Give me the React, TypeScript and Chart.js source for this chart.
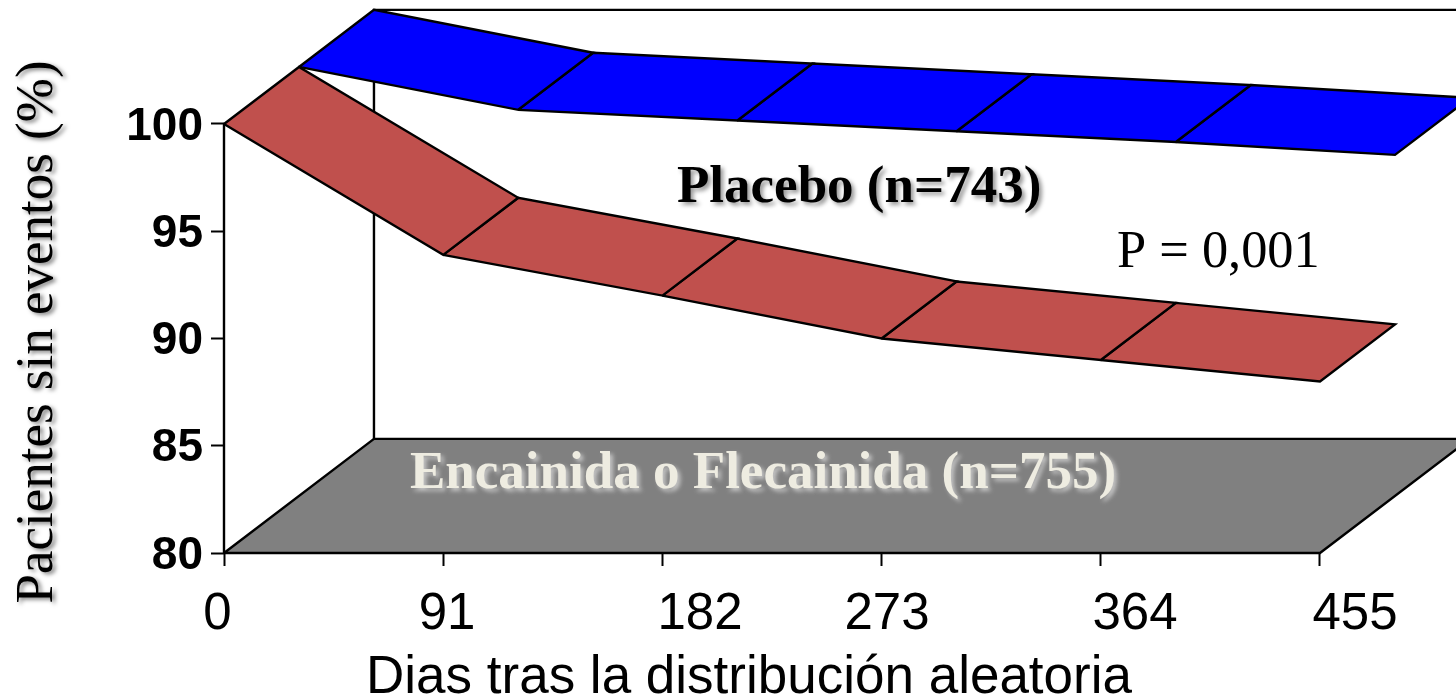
import React, { useEffect, useRef } from "react";
import { Chart, registerables } from "chart.js";

Chart.register(...registerables);

const days = [0, 91, 182, 273, 364, 455];
const encainidaValues = [100, 93.9, 92.0, 90.0, 89.0, 88.0];
const placeboValues = [100, 98.0, 97.5, 97.0, 96.5, 95.9];
const yTickValues = [80, 85, 90, 95, 100];
const yTitle = "Pacientes sin eventos (%)";
const xTitle = "Dias tras la distribución aleatoria";
const placeboLabel = "Placebo (n=743)";
const encainidaLabel = "Encainida o Flecainida (n=755)";
const pLabel = "P = 0,001";

// Per-label horizontal nudge of the x tick labels, in pixels.
const xLabelNudge = [-6.5, 3.8, 37.6, 5.4, 34.2, 35];
const Y_LABEL_NUDGE = 3;

// One depth step of the fake 3D box, in axis units.
const DEPTH_X = 31.13;
const DEPTH_Y = 2.66;
const X_MAX = 511.46;
const Y_MIN = 80;
const Y_MAX = 105.78;

const BLACK = "#000000";
const LINE = 2.4;

function quadDatasets(label: string, values: number[], depth: number, color: string, order: number) {
  const out: any[] = [];
  const dx = depth * DEPTH_X;
  const dy = depth * DEPTH_Y;
  for (let i = 0; i < days.length - 1; i++) {
    out.push({
      label: `${label} ${days[i]}`,
      data: [
        { x: days[i] + dx, y: values[i] + dy },
        { x: days[i + 1] + dx, y: values[i + 1] + dy },
        { x: days[i + 1] + dx + DEPTH_X, y: values[i + 1] + dy + DEPTH_Y },
        { x: days[i] + dx + DEPTH_X, y: values[i] + dy + DEPTH_Y },
        { x: days[i] + dx, y: values[i] + dy },
      ],
      backgroundColor: color,
      borderColor: BLACK,
      borderWidth: LINE,
      fill: "shape",
      tension: 0,
      pointRadius: 0,
      clip: false,
      order,
    });
  }
  return out;
}

const lastDay = days[days.length - 1];

const boxDatasets: any[] = [
  {
    label: "Floor",
    data: [
      { x: 0, y: Y_MIN },
      { x: lastDay, y: Y_MIN },
      { x: lastDay + 2 * DEPTH_X, y: Y_MIN + 2 * DEPTH_Y },
      { x: 2 * DEPTH_X, y: Y_MIN + 2 * DEPTH_Y },
      { x: 0, y: Y_MIN },
    ],
    backgroundColor: "#808080",
    borderColor: BLACK,
    borderWidth: LINE,
    fill: "shape",
    tension: 0,
    pointRadius: 0,
    clip: false,
    order: 100,
  },
  {
    label: "Back wall",
    data: [
      { x: 2 * DEPTH_X, y: Y_MIN + 2 * DEPTH_Y },
      { x: 2 * DEPTH_X, y: 100 + 2 * DEPTH_Y },
      { x: X_MAX, y: 100 + 2 * DEPTH_Y },
    ],
    borderColor: BLACK,
    borderWidth: LINE,
    fill: false,
    tension: 0,
    pointRadius: 0,
    clip: false,
    order: 90,
  },
  {
    label: "Value axis",
    data: [
      { x: 0, y: Y_MIN },
      { x: 0, y: 100 },
    ],
    borderColor: BLACK,
    borderWidth: LINE,
    fill: false,
    tension: 0,
    pointRadius: 0,
    clip: false,
    order: 80,
  },
];

const textPlugin = {
  id: "chartText",
  beforeDraw(chart: any) {
    const { ctx, width, height } = chart;
    ctx.save();
    ctx.fillStyle = "#ffffff";
    ctx.fillRect(0, 0, width, height);
    ctx.restore();

    // Titles are the scales' own; only shift them, and give the y title its shadow.
    const wrap = (scale: any, dx: number, dy: number, shadow: boolean) => {
      if (scale.__wrapped) return;
      scale.__wrapped = true;
      const original = scale.drawTitle.bind(scale);
      scale.drawTitle = () => {
        ctx.save();
        ctx.translate(dx, dy);
        if (shadow) {
          ctx.shadowColor = "rgba(0,0,0,0.5)";
          ctx.shadowBlur = 4;
          ctx.shadowOffsetX = 3;
          ctx.shadowOffsetY = 2;
        }
        original();
        ctx.restore();
      };
    };
    wrap(chart.scales.y, 6, 55.5, true);
    wrap(chart.scales.x, -91, 10, false);

    chart.scales.x.getLabelItems().forEach((item: any, i: number) => {
      if (!item.__nudged) {
        item.__nudged = true;
        item.options.translation = [item.options.translation[0] + xLabelNudge[i], item.options.translation[1]];
      }
    });
    chart.scales.y.getLabelItems().forEach((item: any) => {
      if (!item.__nudged) {
        item.__nudged = true;
        item.options.translation = [item.options.translation[0], item.options.translation[1] + Y_LABEL_NUDGE];
      }
    });
  },
  afterDatasetsDraw(chart: any) {
    const { ctx } = chart;
    const put = (text: string, x: number, y: number, font: string, color: string, shadow?: string) => {
      ctx.save();
      ctx.font = font;
      ctx.fillStyle = color;
      ctx.textAlign = "left";
      ctx.textBaseline = "alphabetic";
      if (shadow) {
        ctx.shadowColor = shadow;
        ctx.shadowBlur = 4;
        ctx.shadowOffsetX = 3;
        ctx.shadowOffsetY = 3;
      }
      ctx.fillText(text, x, y);
      ctx.restore();
    };
    put(placeboLabel, 677, 202, 'bold 53px "Liberation Serif"', "#000000", "rgba(0,0,0,0.4)");
    put(encainidaLabel, 410, 488, 'bold 53px "Liberation Serif"', "#EEECE1", "rgba(225,225,225,0.7)");
    put(pLabel, 1117, 267, '52.4px "Liberation Serif"', "#000000");
  },
};

const noOverhang = (s: any) => {
  s.paddingTop = 0;
  s.paddingBottom = 0;
  s.paddingLeft = 0;
  s.paddingRight = 0;
};

export default function App() {
  const ref = useRef<HTMLCanvasElement | null>(null);
  useEffect(() => {
    document.body.style.margin = "0";
    const chart = new Chart(ref.current as HTMLCanvasElement, {
      type: "line",
      data: {
        datasets: [
          ...boxDatasets,
          ...quadDatasets("Placebo", placeboValues, 1, "#0000FF", 50),
          ...quadDatasets("Encainida o Flecainida", encainidaValues, 0, "#C0504D", 10),
        ],
      },
      options: {
        animation: false,
        responsive: false,
        devicePixelRatio: 1,
        layout: { padding: 0 },
        plugins: { legend: { display: false }, title: { display: false }, tooltip: { enabled: false } },
        scales: {
          x: {
            type: "linear",
            min: 0,
            max: X_MAX,
            afterFit: (s: any) => { s.height = 147; noOverhang(s); },
            afterBuildTicks: (s: any) => { s.ticks = days.map((value) => ({ value })); },
            border: { display: false },
            grid: { drawOnChartArea: false, drawTicks: true, tickLength: 13, tickColor: BLACK, tickWidth: 2 },
            ticks: {
              autoSkip: false,
              maxRotation: 0,
              padding: 18,
              color: BLACK,
              font: { family: "Liberation Sans", size: 51 },
              callback: (v: any) => String(v),
            },
            title: {
              display: true,
              text: xTitle,
              color: BLACK,
              font: { family: "Liberation Sans", size: 53 },
              padding: { top: 0, bottom: 0 },
            },
          },
          y: {
            type: "linear",
            min: Y_MIN,
            max: Y_MAX,
            afterFit: (s: any) => { s.width = 224; noOverhang(s); },
            afterBuildTicks: (s: any) => { s.ticks = yTickValues.map((value) => ({ value })); },
            border: { display: false },
            grid: { drawOnChartArea: false, drawTicks: true, tickLength: 13, tickColor: BLACK, tickWidth: 2 },
            ticks: {
              autoSkip: false,
              padding: 8,
              color: BLACK,
              font: { family: "Liberation Sans", size: 46, weight: "bold" },
              callback: (v: any) => String(v),
            },
            title: {
              display: true,
              text: yTitle,
              color: BLACK,
              font: { family: "Liberation Serif", size: 53 },
              padding: { top: 0, bottom: 0 },
            },
          },
        },
      } as any,
      plugins: [textPlugin as any],
    });
    return () => chart.destroy();
  }, []);
  return (
    <div style={{ position: "absolute", left: 0, top: 0, width: 1456, height: 700, overflow: "hidden" }}>
      <canvas ref={ref} width={1456} height={700} style={{ display: "block" }} />
    </div>
  );
}
